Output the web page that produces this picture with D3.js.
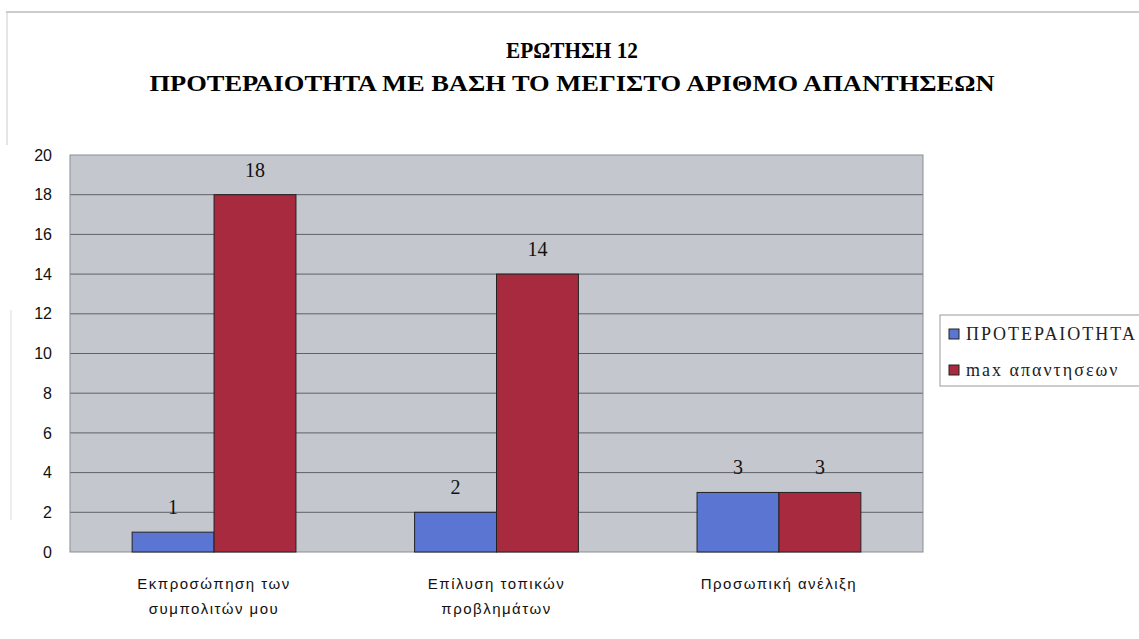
<!DOCTYPE html>
<html lang="en">
<head>
<meta charset="UTF-8">
<title>Ερώτηση 12</title>
<script src="https://d3js.org/d3.v7.min.js"></script>
<style>
  body { margin: 0; background: #fff; }
</style>
</head>
<body>
<script>
    // chart data
    var categories = [
        ["Εκπροσώπηση των", "συμπολιτών μου"],
        ["Επίλυση τοπικών", "προβλημάτων"],
        ["Προσωπική ανέλιξη"]
    ];
    var seriesNames = ["ΠΡΟΤΕΡΑΙΟΤΗΤΑ", "max απαντησεων"];
    var priority = [1, 2, 3];
    var maxAnswers = [18, 14, 3];
    var yTicks = [0, 2, 4, 6, 8, 10, 12, 14, 16, 18, 20];
    var titleLines = ["ΕΡΩΤΗΣΗ 12", "ΠΡΟΤΕΡΑΙΟΤΗΤΑ ΜΕ ΒΑΣΗ ΤΟ ΜΕΓΙΣΤΟ ΑΡΙΘΜΟ ΑΠΑΝΤΗΣΕΩΝ"];

    var colors = ["#5b76d2", "#a72a3e"];

    var width = 1139,
        height = 639,
        plotLeft = 70,
        plotRight = 923,
        plotTop = 155,
        plotBottom = 552;

    var svg = d3.select("body")
        .append("svg")
        .attr("width", width)
        .attr("height", height);

    // faint page frame
    svg.append("line")
        .attr("x1", 6).attr("x2", width)
        .attr("y1", 12).attr("y2", 12)
        .attr("stroke", "#bbb").attr("stroke-width", 1.5);
    svg.append("line")
        .attr("x1", 7).attr("x2", 7)
        .attr("y1", 12).attr("y2", 145)
        .attr("stroke", "#ccc").attr("stroke-width", 1);
    svg.append("line")
        .attr("x1", 11).attr("x2", 11)
        .attr("y1", 310).attr("y2", 520)
        .attr("stroke", "#ddd").attr("stroke-width", 1);

    // title (condensed bold serif)
    var titleWidths = [132, 845];
    svg.append("g").selectAll("text")
        .data(titleLines)
        .enter()
        .append("text")
        .attr("x", 572)
        .attr("y", function (d, i) { return 58 + i * 33; })
        .attr("text-anchor", "middle")
        .attr("font-family", "'Liberation Serif', 'DejaVu Serif', serif")
        .attr("font-weight", "bold")
        .attr("font-size", "24px")
        .attr("textLength", function (d, i) { return titleWidths[i]; })
        .attr("lengthAdjust", "spacingAndGlyphs")
        .text(function (d) { return d; });

    var x0 = d3.scaleBand()
        .domain(d3.range(categories.length))
        .range([plotLeft, plotRight])
        .paddingInner(0.42)
        .paddingOuter(0.22);

    var x1 = d3.scaleBand()
        .domain([0, 1])
        .range([0, x0.bandwidth()]);

    var y = d3.scaleLinear()
        .domain([0, 20])
        .range([plotBottom, plotTop]);

    // plot background
    svg.append("rect")
        .attr("x", plotLeft)
        .attr("y", plotTop)
        .attr("width", plotRight - plotLeft)
        .attr("height", plotBottom - plotTop)
        .attr("fill", "#c4c7cd");

    // gridlines
    svg.append("g").selectAll("line")
        .data(yTicks.filter(function (d) { return d > 0 && d < 20; }))
        .enter()
        .append("line")
        .attr("x1", plotLeft)
        .attr("x2", plotRight)
        .attr("y1", function (d) { return y(d); })
        .attr("y2", function (d) { return y(d); })
        .attr("stroke", "#5f6267")
        .attr("stroke-width", 1);

    // plot border
    svg.append("rect")
        .attr("x", plotLeft)
        .attr("y", plotTop)
        .attr("width", plotRight - plotLeft)
        .attr("height", plotBottom - plotTop)
        .attr("fill", "none")
        .attr("stroke", "#8a8d92")
        .attr("stroke-width", 1);

    // y axis
    var yAxis = d3.axisLeft(y)
        .tickValues(yTicks)
        .tickSize(0)
        .tickPadding(18);

    var yg = svg.append("g")
        .attr("transform", "translate(" + plotLeft + ",0)")
        .call(yAxis);
    yg.select(".domain").remove();
    yg.selectAll("text")
        .attr("font-family", "'Liberation Sans', Arial, sans-serif")
        .attr("font-size", "16px")
        .attr("fill", "#111");

    var series = [priority, maxAnswers];

    // bars
    series.forEach(function (vals, s) {
        svg.append("g").selectAll("rect")
            .data(vals)
            .enter()
            .append("rect")
            .attr("x", function (d, i) { return x0(i) + x1(s); })
            .attr("y", function (d) { return y(d); })
            .attr("width", x1.bandwidth())
            .attr("height", function (d) { return y(0) - y(d); })
            .attr("fill", colors[s])
            .attr("stroke", "#222")
            .attr("stroke-width", 1);

        svg.append("g").selectAll("text")
            .data(vals)
            .enter()
            .append("text")
            .attr("x", function (d, i) { return x0(i) + x1(s) + x1.bandwidth() / 2; })
            .attr("y", function (d) { return y(d) - 18; })
            .attr("text-anchor", "middle")
            .attr("font-family", "'Liberation Serif', 'DejaVu Serif', serif")
            .attr("font-size", "20px")
            .attr("fill", "#111")
            .text(function (d) { return d; });
    });

    // category labels
    var catG = svg.append("g").selectAll("text")
        .data(categories)
        .enter()
        .append("text")
        .attr("text-anchor", "middle")
        .attr("font-family", "'Liberation Sans', Arial, sans-serif")
        .attr("font-size", "15px")
        .attr("letter-spacing", "1.5px")
        .attr("fill", "#111");
    catG.selectAll("tspan")
        .data(function (d, i) { return d.map(function (t) { return { t: t, i: i }; }); })
        .enter()
        .append("tspan")
        .attr("x", function (d) { return x0(d.i) + x0.bandwidth() / 2; })
        .attr("y", function (d, j) { return 589 + j * 25; })
        .text(function (d) { return d.t; });

    // legend
    var legend = svg.append("g");
    legend.append("rect")
        .attr("x", 940)
        .attr("y", 315)
        .attr("width", 205)
        .attr("height", 71)
        .attr("fill", "#fff")
        .attr("stroke", "#999")
        .attr("stroke-width", 1);

    var items = legend.selectAll("g.item")
        .data(seriesNames)
        .enter()
        .append("g")
        .attr("transform", function (d, i) { return "translate(949," + (334 + i * 36) + ")"; });
    items.append("rect")
        .attr("x", 0)
        .attr("y", -5)
        .attr("width", 10)
        .attr("height", 10)
        .attr("fill", function (d, i) { return colors[i]; })
        .attr("stroke", "#222");
    items.append("text")
        .attr("x", 17)
        .attr("y", 0)
        .attr("dy", "0.35em")
        .attr("font-family", "'Liberation Serif', 'DejaVu Serif', serif")
        .attr("font-size", "18px")
        .attr("letter-spacing", "2px")
        .attr("fill", "#222")
        .text(function (d) { return d; });
</script>
</body>
</html>
